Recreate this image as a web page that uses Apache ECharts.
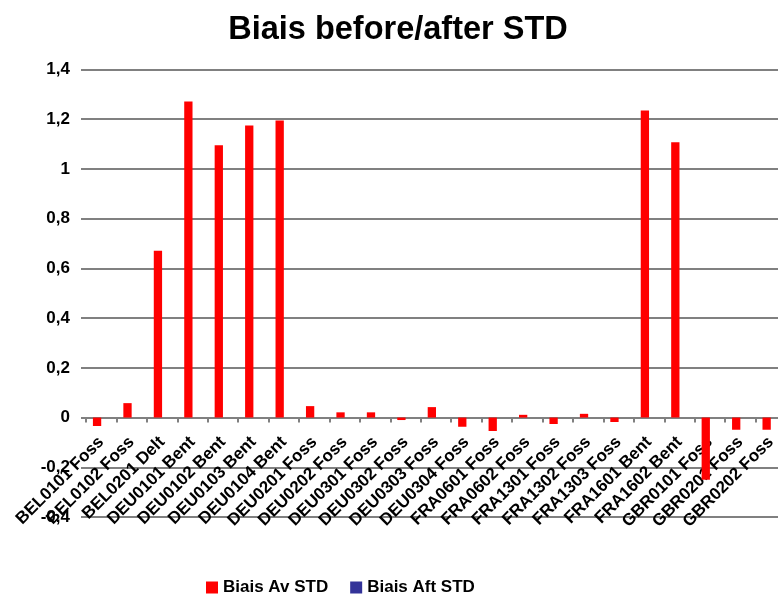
<!DOCTYPE html>
<html>
<head>
<meta charset="utf-8">
<title>Biais before/after STD</title>
<script src="https://cdn.jsdelivr.net/npm/echarts@6/dist/echarts.min.js"></script>
<style>
  html, body { margin: 0; padding: 0; background: #ffffff; }
  #chart { width: 778px; height: 599px; }
</style>
</head>
<body>
<div id="chart"></div>
<script>
// Station / sampler categories
const categories = [
  'BEL0101 Foss', 'BEL0102 Foss', 'BEL0201 Delt', 'DEU0101 Bent', 'DEU0102 Bent',
  'DEU0103 Bent', 'DEU0104 Bent', 'DEU0201 Foss', 'DEU0202 Foss', 'DEU0301 Foss',
  'DEU0302 Foss', 'DEU0303 Foss', 'DEU0304 Foss', 'FRA0601 Foss', 'FRA0602 Foss',
  'FRA1301 Foss', 'FRA1302 Foss', 'FRA1303 Foss', 'FRA1601 Bent', 'FRA1602 Bent',
  'GBR0101 Foss', 'GBR0201 Foss', 'GBR0202 Foss'
];

// Bias before standardisation
const biaisAv = [
  -0.034, 0.058, 0.671, 1.271, 1.095,
  1.175, 1.195, 0.046, 0.021, 0.021,
  -0.010, 0.042, -0.037, -0.054, 0.011,
  -0.026, 0.015, -0.018, 1.235, 1.107,
  -0.250, -0.049, -0.049
];

// Bias after standardisation (no values recorded)
const biaisAft = [
  null, null, null, null, null,
  null, null, null, null, null,
  null, null, null, null, null,
  null, null, null, null, null,
  null, null, null
];

// Value axis ticks
const yTicks = [-0.4, -0.2, 0, 0.2, 0.4, 0.6, 0.8, 1, 1.2, 1.4];

const seriesNames = ['Biais Av STD', 'Biais Aft STD'];

const FONT = "'Liberation Sans', Arial, Helvetica, sans-serif";
const GRID_GREY = '#808080';

// Plot box (pixels)
const GRID_TOP = 69.5;
const GRID_BOTTOM = 82;
const CHART_H = 599;

const yMin = yTicks[0];
const yMax = yTicks[yTicks.length - 1];

// Category labels hang just under the zero line rather than the plot bottom
const plotH = CHART_H - GRID_TOP - GRID_BOTTOM;
const zeroToBottom = plotH * (0 - yMin) / (yMax - yMin);
const LABEL_GAP = 22;

const chart = echarts.init(document.getElementById('chart'), null, { renderer: 'canvas' });

const fmtTick = v => String(+Number(v).toFixed(1)).replace('.', ',');

chart.setOption({
  animation: false,
  backgroundColor: '#ffffff',
  title: {
    text: 'Biais before/after STD',
    left: 393,
    textAlign: 'center',
    top: 9,
    textStyle: { fontFamily: FONT, fontWeight: 'bold', fontSize: 32.5, color: '#000000' }
  },
  legend: {
    data: seriesNames,
    left: 201,
    top: 574,
    icon: 'rect',
    itemWidth: 12,
    itemHeight: 12,
    itemGap: 22,
    textStyle: { fontFamily: FONT, fontWeight: 'bold', fontSize: 17, color: '#000000' }
  },
  grid: {
    left: 86,
    right: -8,
    top: GRID_TOP,
    bottom: GRID_BOTTOM,
    containLabel: false,
    outerBoundsMode: 'none'
  },
  xAxis: {
    type: 'category',
    data: categories,
    axisLine: { show: true, onZero: true, lineStyle: { color: GRID_GREY, width: 2 } },
    axisTick: { show: true, length: 5, interval: 0, lineStyle: { color: GRID_GREY, width: 2 } },
    axisLabel: {
      interval: 0,
      rotate: 45,
      margin: LABEL_GAP - zeroToBottom,
      fontFamily: FONT,
      fontWeight: 'bold',
      fontSize: 17,
      color: '#000000'
    },
    splitLine: { show: false }
  },
  yAxis: {
    type: 'value',
    min: yMin,
    max: yMax,
    interval: 0.2,
    axisLine: { show: false },
    axisTick: { show: true, length: 5, lineStyle: { color: GRID_GREY, width: 2 } },
    axisLabel: {
      margin: 16,
      formatter: fmtTick,
      fontFamily: FONT,
      fontWeight: 'bold',
      fontSize: 17,
      color: '#000000'
    },
    splitLine: { show: true, lineStyle: { color: GRID_GREY, width: 2 } }
  },
  series: [
    {
      name: seriesNames[0],
      type: 'bar',
      data: biaisAv,
      barWidth: 8.3,
      barGap: '0%',
      itemStyle: { color: '#ff0000' }
    },
    {
      name: seriesNames[1],
      type: 'bar',
      data: biaisAft,
      barWidth: 8.3,
      barGap: '0%',
      itemStyle: { color: '#333399' }
    }
  ]
});
</script>
</body>
</html>
